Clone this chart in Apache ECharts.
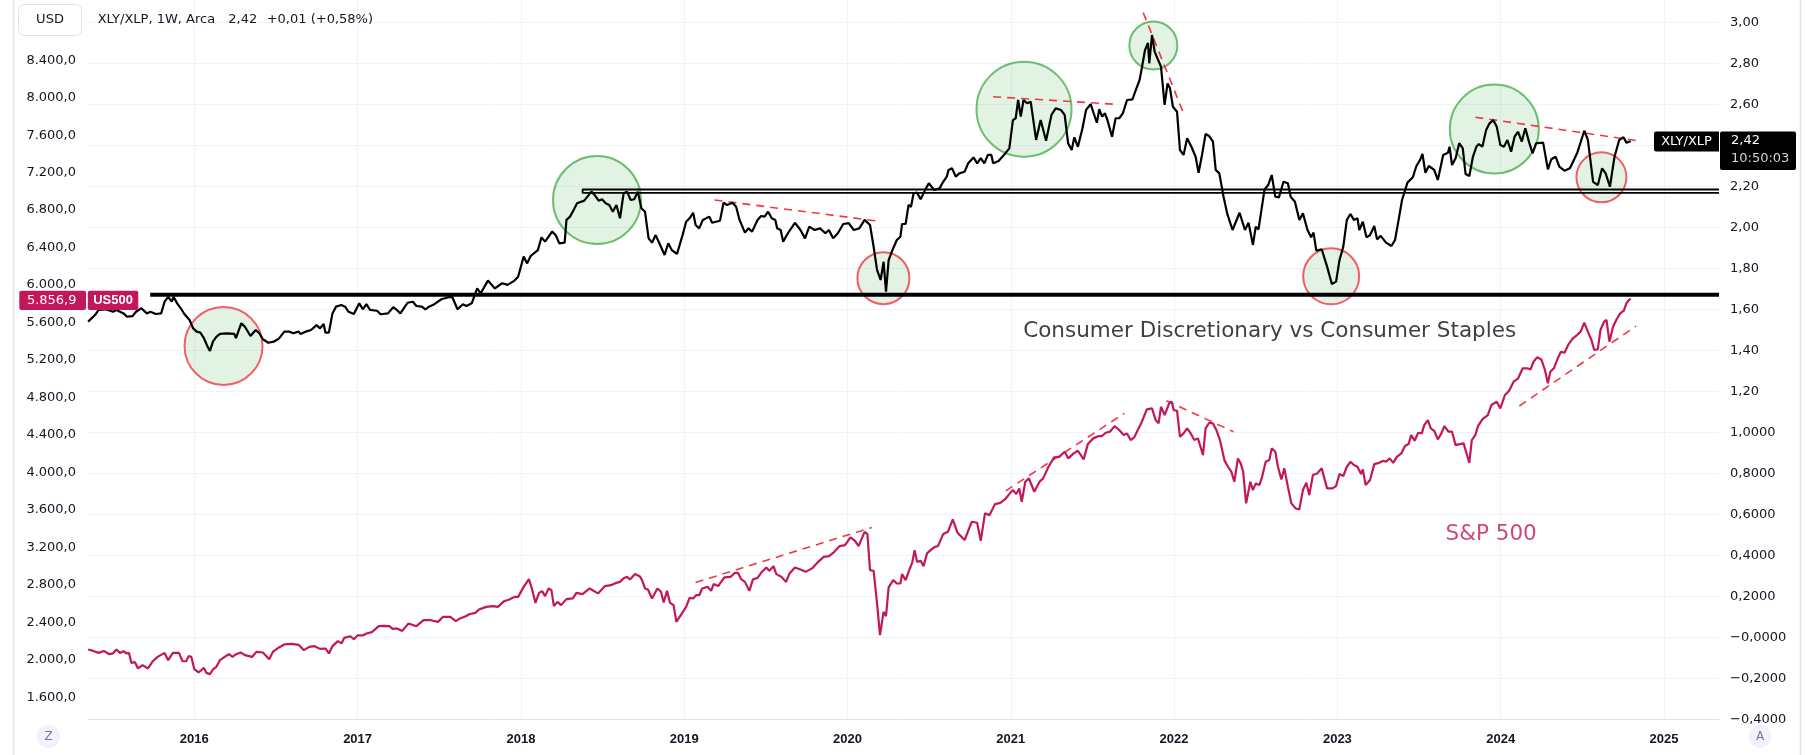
<!DOCTYPE html>
<html><head><meta charset="utf-8">
<script src="https://cdn.jsdelivr.net/npm/echarts@6/dist/echarts.min.js"></script>
<style>html,body{margin:0;padding:0;background:#fff;}#c{width:1814px;height:755px;}</style>
</head><body><div id="c"></div><script>
// ---- DATA (x = decimal year) ----
const yearTicks = [2016, 2017, 2018, 2019, 2020, 2021, 2022, 2023, 2024, 2025];

const xlyData = [
[2015.350,1.540],[2015.392,1.572],[2015.414,1.597],[2015.457,1.600],[2015.502,1.588],[2015.523,1.597],[2015.567,1.580],[2015.588,1.564],[2015.622,1.567],[2015.643,1.588],
[2015.676,1.605],[2015.709,1.580],[2015.731,1.588],[2015.764,1.577],[2015.797,1.580],[2015.818,1.637],[2015.840,1.661],[2015.862,1.637],[2015.873,1.661],[2015.895,1.629],
[2015.917,1.605],[2015.939,1.577],[2015.971,1.548],[2015.993,1.507],[2016.015,1.491],[2016.037,1.486],[2016.059,1.459],[2016.081,1.418],[2016.096,1.397],[2016.114,1.442],
[2016.135,1.466],[2016.157,1.480],[2016.200,1.483],[2016.245,1.480],[2016.255,1.459],[2016.288,1.532],[2016.310,1.515],[2016.344,1.470],[2016.376,1.499],[2016.398,1.483],
[2016.420,1.454],[2016.453,1.437],[2016.486,1.442],[2016.518,1.457],[2016.551,1.491],[2016.584,1.491],[2016.606,1.483],[2016.639,1.491],[2016.650,1.480],[2016.682,1.491],
[2016.715,1.499],[2016.748,1.523],[2016.770,1.507],[2016.792,1.528],[2016.803,1.486],[2016.824,1.486],[2016.846,1.580],[2016.868,1.613],[2016.901,1.621],[2016.923,1.613],
[2016.945,1.588],[2016.977,1.577],[2017.010,1.629],[2017.032,1.600],[2017.054,1.625],[2017.076,1.597],[2017.119,1.593],[2017.141,1.576],[2017.186,1.580],[2017.218,1.610],
[2017.240,1.597],[2017.262,1.580],[2017.306,1.632],[2017.339,1.637],[2017.360,1.616],[2017.393,1.613],[2017.415,1.600],[2017.437,1.613],[2017.470,1.625],[2017.513,1.649],
[2017.557,1.659],[2017.579,1.661],[2017.612,1.600],[2017.645,1.625],[2017.666,1.616],[2017.699,1.629],[2017.732,1.702],[2017.754,1.678],[2017.798,1.740],[2017.841,1.702],
[2017.885,1.727],[2017.918,1.719],[2017.961,1.740],[2017.983,1.759],[2018.017,1.857],[2018.038,1.824],[2018.060,1.860],[2018.104,1.889],[2018.126,1.951],[2018.148,1.930],
[2018.191,1.979],[2018.213,1.962],[2018.235,1.922],[2018.268,1.925],[2018.279,2.036],[2018.301,2.052],[2018.323,2.084],[2018.344,2.117],[2018.388,2.130],[2018.432,2.174],
[2018.451,2.158],[2018.476,2.130],[2018.497,2.137],[2018.519,2.117],[2018.541,2.109],[2018.563,2.076],[2018.585,2.109],[2018.607,2.044],[2018.629,2.166],[2018.650,2.174],
[2018.672,2.133],[2018.694,2.137],[2018.716,2.174],[2018.738,2.093],[2018.760,2.076],[2018.782,1.946],[2018.803,1.925],[2018.825,1.962],[2018.848,1.922],[2018.880,1.865],
[2018.902,1.922],[2018.924,1.889],[2018.956,1.870],[2018.990,1.962],[2019.012,2.027],[2019.033,2.044],[2019.055,2.071],[2019.070,2.011],[2019.092,1.995],[2019.114,2.036],
[2019.154,2.052],[2019.171,2.022],[2019.219,2.032],[2019.241,2.120],[2019.263,2.109],[2019.296,2.120],[2019.318,2.100],[2019.339,2.036],[2019.372,1.974],[2019.394,1.995],
[2019.416,1.979],[2019.449,2.036],[2019.471,2.055],[2019.492,2.052],[2019.514,2.076],[2019.536,2.044],[2019.558,2.036],[2019.569,1.995],[2019.591,1.987],[2019.606,1.930],
[2019.635,1.971],[2019.678,2.022],[2019.712,1.987],[2019.740,1.946],[2019.766,2.003],[2019.799,1.987],[2019.832,1.995],[2019.865,1.971],[2019.886,1.987],[2019.912,1.946],
[2019.941,1.971],[2019.974,2.016],[2020.007,2.020],[2020.039,1.987],[2020.072,1.995],[2020.105,2.036],[2020.138,2.011],[2020.160,1.905],[2020.181,1.792],[2020.203,1.743],
[2020.221,1.832],[2020.236,1.686],[2020.252,1.840],[2020.280,1.898],[2020.302,1.938],[2020.324,1.954],[2020.334,2.016],[2020.356,2.016],[2020.374,2.109],[2020.389,2.100],
[2020.405,2.166],[2020.426,2.169],[2020.448,2.137],[2020.477,2.185],[2020.498,2.215],[2020.531,2.182],[2020.564,2.190],[2020.586,2.222],[2020.608,2.247],[2020.619,2.280],
[2020.640,2.288],[2020.663,2.247],[2020.685,2.263],[2020.717,2.271],[2020.739,2.312],[2020.772,2.341],[2020.794,2.312],[2020.816,2.337],[2020.838,2.312],[2020.860,2.353],
[2020.881,2.353],[2020.892,2.312],[2020.925,2.323],[2020.958,2.353],[2020.991,2.385],[2021.013,2.523],[2021.030,2.532],[2021.045,2.621],[2021.061,2.540],[2021.078,2.621],
[2021.100,2.605],[2021.122,2.613],[2021.155,2.426],[2021.183,2.523],[2021.216,2.422],[2021.249,2.548],[2021.275,2.580],[2021.308,2.572],[2021.330,2.548],[2021.351,2.410],
[2021.373,2.377],[2021.389,2.439],[2021.411,2.393],[2021.439,2.483],[2021.461,2.572],[2021.489,2.601],[2021.527,2.510],[2021.542,2.576],[2021.559,2.540],[2021.577,2.556],
[2021.592,2.523],[2021.620,2.442],[2021.642,2.532],[2021.664,2.532],[2021.686,2.556],[2021.712,2.621],[2021.745,2.624],[2021.767,2.673],[2021.789,2.719],[2021.804,2.783],
[2021.822,2.865],[2021.840,2.900],[2021.848,2.800],[2021.865,2.938],[2021.881,2.857],[2021.898,2.824],[2021.920,2.783],[2021.942,2.597],[2021.960,2.702],[2021.975,2.678],
[2021.993,2.588],[2022.018,2.564],[2022.036,2.377],[2022.058,2.353],[2022.080,2.434],[2022.106,2.393],[2022.132,2.344],[2022.150,2.266],[2022.171,2.353],[2022.193,2.455],
[2022.215,2.445],[2022.238,2.418],[2022.255,2.280],[2022.277,2.263],[2022.303,2.149],[2022.325,2.068],[2022.358,1.987],[2022.401,2.071],[2022.434,1.987],[2022.456,2.022],
[2022.483,1.914],[2022.500,2.003],[2022.517,1.990],[2022.554,2.185],[2022.576,2.206],[2022.598,2.255],[2022.620,2.149],[2022.642,2.146],[2022.670,2.222],[2022.697,2.215],
[2022.714,2.149],[2022.740,2.125],[2022.767,2.036],[2022.789,2.068],[2022.817,1.987],[2022.839,1.951],[2022.854,1.974],[2022.871,1.886],[2022.904,1.893],[2022.937,1.808],
[2022.966,1.723],[2022.992,1.735],[2023.013,1.840],[2023.036,1.905],[2023.058,2.036],[2023.080,2.065],[2023.101,2.036],[2023.123,2.044],[2023.134,1.987],[2023.156,2.027],
[2023.178,1.951],[2023.200,1.962],[2023.226,2.006],[2023.243,1.941],[2023.265,1.958],[2023.298,1.925],[2023.331,1.909],[2023.353,1.938],[2023.375,2.036],[2023.396,2.133],
[2023.429,2.218],[2023.462,2.244],[2023.484,2.299],[2023.506,2.328],[2023.521,2.358],[2023.539,2.266],[2023.560,2.299],[2023.593,2.280],[2023.615,2.231],[2023.648,2.353],
[2023.677,2.364],[2023.687,2.393],[2023.702,2.304],[2023.724,2.337],[2023.746,2.410],[2023.768,2.385],[2023.785,2.260],[2023.808,2.250],[2023.830,2.344],[2023.851,2.393],
[2023.866,2.406],[2023.888,2.393],[2023.911,2.475],[2023.932,2.507],[2023.954,2.523],[2023.976,2.491],[2023.998,2.401],[2024.020,2.393],[2024.041,2.426],[2024.064,2.369],
[2024.085,2.442],[2024.107,2.466],[2024.129,2.418],[2024.151,2.483],[2024.173,2.418],[2024.195,2.361],[2024.217,2.410],[2024.260,2.413],[2024.289,2.283],[2024.310,2.332],
[2024.337,2.344],[2024.359,2.296],[2024.391,2.276],[2024.424,2.288],[2024.468,2.361],[2024.512,2.471],[2024.534,2.426],[2024.566,2.222],[2024.595,2.206],[2024.621,2.288],
[2024.643,2.263],[2024.669,2.198],[2024.697,2.344],[2024.726,2.426],[2024.752,2.439],[2024.770,2.413],[2024.796,2.420]
];

const spxData = [
[2015.350,2109],[2015.381,2094],[2015.414,2073],[2015.446,2094],[2015.479,2059],[2015.502,2067],[2015.523,2109],[2015.545,2073],[2015.567,2091],[2015.584,2067],
[2015.600,2073],[2015.615,1966],[2015.637,1974],[2015.655,1907],[2015.683,1942],[2015.716,1907],[2015.746,1984],[2015.775,2030],[2015.818,2073],[2015.840,1995],
[2015.869,2073],[2015.906,2073],[2015.928,1984],[2015.950,1984],[2015.965,2038],[2015.982,2030],[2016.000,1899],[2016.026,1864],[2016.059,1913],[2016.074,1860],
[2016.096,1846],[2016.114,1896],[2016.135,1924],[2016.157,1995],[2016.186,2030],[2016.212,2059],[2016.234,2030],[2016.256,2059],[2016.284,2077],[2016.310,2049],
[2016.354,2030],[2016.380,2084],[2016.420,2077],[2016.459,2006],[2016.481,2084],[2016.518,2131],[2016.551,2163],[2016.595,2169],[2016.639,2159],[2016.671,2102],
[2016.704,2137],[2016.737,2145],[2016.770,2116],[2016.803,2120],[2016.824,2067],[2016.846,2145],[2016.879,2198],[2016.901,2174],[2016.918,2233],[2016.956,2251],
[2016.977,2219],[2016.999,2259],[2017.032,2259],[2017.054,2280],[2017.087,2294],[2017.130,2358],[2017.163,2362],[2017.196,2358],[2017.214,2329],[2017.240,2334],
[2017.273,2308],[2017.312,2387],[2017.360,2358],[2017.404,2422],[2017.448,2422],[2017.492,2404],[2017.524,2458],[2017.568,2458],[2017.601,2412],[2017.627,2441],
[2017.662,2465],[2017.684,2486],[2017.721,2500],[2017.743,2537],[2017.787,2564],[2017.830,2572],[2017.859,2564],[2017.897,2625],[2017.929,2643],[2017.961,2671],
[2017.983,2671],[2018.017,2778],[2018.049,2860],[2018.067,2761],[2018.089,2607],[2018.111,2714],[2018.130,2732],[2018.148,2679],[2018.170,2761],[2018.187,2743],
[2018.202,2572],[2018.224,2618],[2018.246,2583],[2018.279,2647],[2018.318,2654],[2018.340,2714],[2018.377,2700],[2018.421,2761],[2018.472,2708],[2018.515,2786],
[2018.552,2796],[2018.585,2821],[2018.607,2831],[2018.629,2870],[2018.650,2885],[2018.668,2857],[2018.699,2914],[2018.727,2892],[2018.742,2850],[2018.760,2761],
[2018.778,2750],[2018.803,2654],[2018.836,2761],[2018.858,2725],[2018.874,2611],[2018.895,2735],[2018.913,2607],[2018.935,2583],[2018.952,2404],[2018.983,2486],
[2019.012,2564],[2019.033,2661],[2019.055,2654],[2019.073,2689],[2019.092,2689],[2019.110,2761],[2019.143,2778],[2019.165,2735],[2019.180,2807],[2019.208,2786],
[2019.246,2879],[2019.285,2885],[2019.311,2928],[2019.329,2928],[2019.350,2857],[2019.372,2831],[2019.399,2735],[2019.421,2857],[2019.449,2874],[2019.471,2928],
[2019.503,2985],[2019.521,2949],[2019.547,2999],[2019.564,2914],[2019.595,2885],[2019.624,2831],[2019.645,2921],[2019.678,2985],[2019.712,2964],[2019.744,2938],
[2019.783,2975],[2019.821,3045],[2019.854,3098],[2019.887,3106],[2019.919,3152],[2019.952,3213],[2019.985,3223],[2020.018,3306],[2020.046,3269],[2020.068,3213],
[2020.105,3365],[2020.122,3341],[2020.138,2956],[2020.160,2949],[2020.181,2601],[2020.199,2262],[2020.221,2511],[2020.236,2465],[2020.252,2772],[2020.280,2850],
[2020.302,2814],[2020.324,2814],[2020.334,2914],[2020.356,2850],[2020.378,2956],[2020.396,3034],[2020.411,3170],[2020.426,3045],[2020.448,3056],[2020.466,2999],
[2020.487,3135],[2020.514,3178],[2020.536,3206],[2020.554,3213],[2020.586,3341],[2020.615,3365],[2020.645,3498],[2020.674,3355],[2020.717,3277],[2020.761,3473],
[2020.794,3462],[2020.816,3269],[2020.842,3562],[2020.870,3544],[2020.903,3661],[2020.936,3675],[2020.964,3711],[2020.991,3768],[2021.013,3811],[2021.034,3768],
[2021.052,3829],[2021.067,3686],[2021.089,3900],[2021.111,3936],[2021.144,3793],[2021.176,3900],[2021.198,3936],[2021.231,4060],[2021.265,4160],[2021.297,4166],
[2021.330,4220],[2021.352,4149],[2021.385,4203],[2021.411,4231],[2021.446,4139],[2021.472,4302],[2021.505,4363],[2021.538,4388],[2021.559,4388],[2021.581,4423],
[2021.607,4434],[2021.636,4494],[2021.664,4452],[2021.691,4398],[2021.712,4416],[2021.734,4345],[2021.756,4374],[2021.778,4452],[2021.800,4530],[2021.833,4673],
[2021.865,4683],[2021.887,4558],[2021.905,4523],[2021.920,4700],[2021.942,4612],[2021.971,4743],[2021.986,4754],[2021.997,4665],[2022.018,4658],[2022.036,4380],
[2022.058,4416],[2022.080,4470],[2022.102,4416],[2022.124,4345],[2022.146,4363],[2022.177,4185],[2022.193,4470],[2022.215,4530],[2022.238,4523],[2022.259,4452],
[2022.281,4345],[2022.308,4131],[2022.330,4060],[2022.351,4006],[2022.369,3900],[2022.391,4149],[2022.408,4096],[2022.423,4006],[2022.441,3669],[2022.467,3900],
[2022.483,3811],[2022.500,3882],[2022.522,3864],[2022.539,3953],[2022.561,4113],[2022.583,4131],[2022.598,4256],[2022.620,4220],[2022.636,4060],[2022.657,3925],
[2022.675,4043],[2022.697,3846],[2022.718,3669],[2022.745,3615],[2022.767,3605],[2022.789,3811],[2022.810,3889],[2022.828,3757],[2022.850,3971],[2022.876,3989],
[2022.904,4043],[2022.937,3829],[2022.970,3829],[2022.992,3854],[2023.013,3982],[2023.036,3960],[2023.058,4060],[2023.080,4113],[2023.101,4078],[2023.123,4060],
[2023.145,3982],[2023.156,4032],[2023.173,3864],[2023.200,3918],[2023.226,4088],[2023.255,4102],[2023.283,4124],[2023.298,4113],[2023.320,4149],[2023.342,4102],
[2023.364,4166],[2023.392,4203],[2023.414,4281],[2023.436,4302],[2023.452,4398],[2023.473,4337],[2023.495,4423],[2023.517,4416],[2023.532,4505],[2023.554,4558],
[2023.572,4470],[2023.593,4444],[2023.615,4352],[2023.637,4416],[2023.655,4494],[2023.681,4434],[2023.702,4434],[2023.724,4291],[2023.751,4302],[2023.773,4309],
[2023.790,4209],[2023.808,4102],[2023.823,4345],[2023.845,4398],[2023.861,4494],[2023.888,4566],[2023.921,4612],[2023.943,4719],[2023.976,4754],[2023.998,4683],
[2024.026,4826],[2024.052,4871],[2024.079,4968],[2024.107,5004],[2024.135,5111],[2024.161,5111],[2024.183,5100],[2024.201,5181],[2024.223,5228],[2024.249,5206],
[2024.271,5093],[2024.289,4950],[2024.304,5074],[2024.326,5111],[2024.347,5206],[2024.369,5288],[2024.391,5277],[2024.413,5360],[2024.442,5431],[2024.468,5466],
[2024.490,5502],[2024.512,5598],[2024.534,5502],[2024.556,5413],[2024.573,5306],[2024.595,5314],[2024.611,5520],[2024.633,5608],[2024.648,5627],[2024.666,5395],
[2024.688,5555],[2024.710,5634],[2024.732,5698],[2024.754,5726],[2024.770,5805],[2024.786,5840],[2024.796,5856.9]
];

// annotation drawings (data coordinates)
const greenCircles = [[2018.466, 2.133], [2021.081, 2.576], [2021.873, 2.887], [2023.961, 2.479]];
const redCircles = [[2016.179, 1.421], [2020.220, 1.752], [2022.962, 1.761], [2024.617, 2.244]];
const xlyTrends = [
  [[2019.186, 2.133], [2020.181, 2.031]],
  [[2020.892, 2.637], [2021.625, 2.601]],
  [[2021.811, 3.047], [2022.062, 2.548]],
  [[2023.845, 2.537], [2024.840, 2.422]]
];
const spxTrends = [
  [[2019.070, 2825], [2020.149, 3412]],
  [[2020.969, 3803], [2021.695, 4630]],
  [[2021.953, 4765], [2022.364, 4433]],
  [[2024.114, 4708], [2024.829, 5562]]
];
const supportLevel = 1.671, supportStart = 2015.73;
const channelTop = 2.1844, channelBottom = 2.1678, channelStart = 2018.378;
const xlyLast = 2.42, spxLast = 5856.9;

// ---- STYLE / LAYOUT ----
const X_MIN = 2015.349, X_MAX = 2025.337;
const Y_TOP = -0.4 + 719.3 / 205;
const greenSizes = [88, 95, 48, 89];
const redSizes = [78, 52, 56, 50];
const FONT = 'DejaVu Sans';
const PINK = '#c2185b';
const TXT = '#131722';
const RED = '#f23645';

const fmtLeft = v => Math.round(v).toString().replace(/\B(?=(\d{3})+(?!\d))/g, '.') + ',0';
const fmtRight = v => {
  const k = Math.round(v * 5);
  if (Math.abs(v * 5 - k) > 1e-6) return '';
  const r = k / 5;
  if (r >= 1.1) return r.toFixed(2).replace('.', ',');
  return (r <= 0 ? '\u2212' : '') + Math.abs(r).toFixed(4).replace('.', ',');
};

const chart = echarts.init(document.getElementById('c'), null, {width: 1814, height: 755});

const series = [];
series.push({type: 'scatter', xAxisIndex: 0, yAxisIndex: 0, data: greenCircles, silent: true, z: 1,
  symbolSize: (v, p) => greenSizes[p.dataIndex],
  itemStyle: {color: 'rgba(76,175,80,0.2)', borderColor: '#4caf50', borderWidth: 2}});
series.push({type: 'scatter', xAxisIndex: 0, yAxisIndex: 0, data: redCircles, silent: true, z: 1,
  symbolSize: (v, p) => redSizes[p.dataIndex],
  itemStyle: {color: 'rgba(76,175,80,0.2)', borderColor: RED, borderWidth: 2}});
xlyTrends.forEach(t => series.push({type: 'line', xAxisIndex: 0, yAxisIndex: 0, data: t, symbol: 'none', silent: true, z: 3,
  lineStyle: {color: RED, width: 1.6, type: [8, 6]}}));
spxTrends.forEach(t => series.push({type: 'line', xAxisIndex: 1, yAxisIndex: 1, data: t, symbol: 'none', silent: true, z: 3,
  lineStyle: {color: RED, width: 1.6, type: [8, 6]}}));
series.push({type: 'line', xAxisIndex: 0, yAxisIndex: 0, symbol: 'none', silent: true, z: 2,
  data: [[supportStart, supportLevel], [X_MAX, supportLevel]], lineStyle: {color: '#000', width: 4}});
series.push({type: 'line', xAxisIndex: 0, yAxisIndex: 0, symbol: 'none', silent: true, z: 2,
  data: [[X_MAX, channelTop], [channelStart, channelTop], [channelStart, channelBottom], [X_MAX, channelBottom]],
  lineStyle: {color: '#000', width: 1.8}});
series.push({name: 'XLY/XLP', type: 'line', xAxisIndex: 0, yAxisIndex: 0, data: xlyData, symbol: 'none', z: 5,
  lineStyle: {color: '#000', width: 2.2}});
series.push({name: 'US500', type: 'line', xAxisIndex: 1, yAxisIndex: 1, data: spxData, symbol: 'none', z: 5,
  lineStyle: {color: PINK, width: 2.2}});
series.push({type: 'scatter', xAxisIndex: 0, yAxisIndex: 0, data: [[2021.073, 1.4917]], symbolSize: 1, silent: true, z: 6,
  itemStyle: {color: 'transparent'},
  label: {show: true, position: 'right', distance: 0, formatter: 'Consumer Discretionary vs Consumer Staples',
    fontFamily: FONT, fontSize: 21.5, color: '#0c0e15'}});
series.push({type: 'scatter', xAxisIndex: 1, yAxisIndex: 1, data: [[2023.659, 3337]], symbolSize: 1, silent: true, z: 6,
  itemStyle: {color: 'transparent'},
  label: {show: true, position: 'right', distance: 0, formatter: 'S&P 500',
    fontFamily: FONT, fontSize: 21.5, color: PINK}});

chart.setOption({
  animation: false,
  backgroundColor: '#ffffff',
  grid: [
    {left: 88, right: 95, top: 0, bottom: 35.7},
    {left: 88, right: 95, top: 60.2, bottom: 57.8}
  ],
  xAxis: [
    {gridIndex: 0, type: 'value', min: X_MIN, max: X_MAX,
      axisLine: {show: true, onZero: false, lineStyle: {color: '#e0e3eb', width: 1}},
      axisTick: {show: false, customValues: yearTicks},
      axisLabel: {customValues: yearTicks, formatter: v => String(Math.round(v)), color: TXT,
        fontFamily: 'Liberation Sans', fontWeight: 'bold', fontSize: 13, margin: 14},
      splitLine: {show: true, lineStyle: {color: '#f0f3fa', width: 1}}},
    {gridIndex: 1, type: 'value', min: X_MIN, max: X_MAX, show: false, axisLine: {onZero: false}, splitLine: {show: false}}
  ],
  yAxis: [
    {gridIndex: 0, type: 'value', position: 'right', min: -0.4, max: Y_TOP, interval: 0.2,
      axisLine: {show: false, onZero: false}, axisTick: {show: false},
      axisLabel: {formatter: fmtRight, color: TXT, fontFamily: FONT, fontSize: 13, margin: 11, showMaxLabel: false},
      splitLine: {show: true, showMaxLine: false, lineStyle: {color: '#f0f3fa', width: 1}}},
    {gridIndex: 1, type: 'value', position: 'left', min: 1600, max: 8400, interval: 400,
      axisLine: {show: false, onZero: false}, axisTick: {show: false},
      axisLabel: {formatter: fmtLeft, color: TXT, fontFamily: FONT, fontSize: 13, margin: 12},
      splitLine: {show: false}}
  ],
  series: series
});

// ---- UI overlays (price labels, header) ----
const pyX = chart.convertToPixel({yAxisIndex: 0}, xlyLast);
const pyS = chart.convertToPixel({yAxisIndex: 1}, spxLast);
const T = (text, x, y, o) => Object.assign({type: 'text', x: x, y: y, z: 100,
  style: Object.assign({text: text, fontFamily: FONT, fontSize: 13, fill: TXT, align: 'left', verticalAlign: 'middle'}, o || {})});
const R = (x, y, w, h, fill, r, stroke) => ({type: 'rect', z: 99, shape: {x: x, y: y, width: w, height: h, r: r || 0},
  style: {fill: fill, stroke: stroke || null, lineWidth: 1}});
const graphics = [
  {type: 'line', z: 99, shape: {x1: 13.5, y1: 0, x2: 13.5, y2: 755}, style: {stroke: '#e0e3eb', lineWidth: 1.5}},
  {type: 'line', z: 99, shape: {x1: 1800.5, y1: 0, x2: 1800.5, y2: 755}, style: {stroke: '#e0e3eb', lineWidth: 1.5}},
  R(18.5, 4.5, 63, 31, '#ffffff', 6, '#e0e3eb'),
  T('USD', 50, 20, {align: 'center'}),
  T('XLY/XLP, 1W, Arca', 97.7, 20),
  T('2,42', 228.3, 20),
  T('+0,01 (+0,58%)', 266.7, 20),
  // right last-value labels
  R(1654, pyX - 9.8, 65, 20, '#000000', [2, 0, 0, 2]),
  T('XLY/XLP', 1686.5, pyX + 0.2, {align: 'center', fill: '#ffffff'}),
  R(1720, pyX - 9.8, 76, 38.5, '#000000', 2),
  T('2,42', 1731, pyX - 0.8, {fill: '#ffffff'}),
  T('10:50:03', 1731, pyX + 17.2, {fill: '#d1d4dc'}),
  // left last-value labels
  R(19.3, pyS - 7.8, 66.7, 19.3, PINK, 2),
  T('5.856,9', 76.5, pyS + 1.8, {align: 'right', fill: '#ffffff'}),
  R(87.8, pyS - 7.8, 50.5, 19.3, PINK, 2),
  T('US500', 113, pyS + 1.8, {align: 'center', fill: '#ffffff', fontFamily: 'Liberation Sans', fontWeight: 'bold'}),
  // bottom buttons
  {type: 'circle', z: 99, shape: {cx: 48.5, cy: 736.5, r: 11.5}, style: {fill: '#f0f3fa'}},
  T('Z', 48.5, 737, {align: 'center', fill: '#787b86', fontSize: 12}),
  {type: 'circle', z: 99, shape: {cx: 1760, cy: 736.5, r: 11.5}, style: {fill: '#f0f3fa'}},
  T('A', 1760, 737, {align: 'center', fill: '#787b86', fontSize: 12})
];
chart.setOption({graphic: graphics});
</script></body></html>
